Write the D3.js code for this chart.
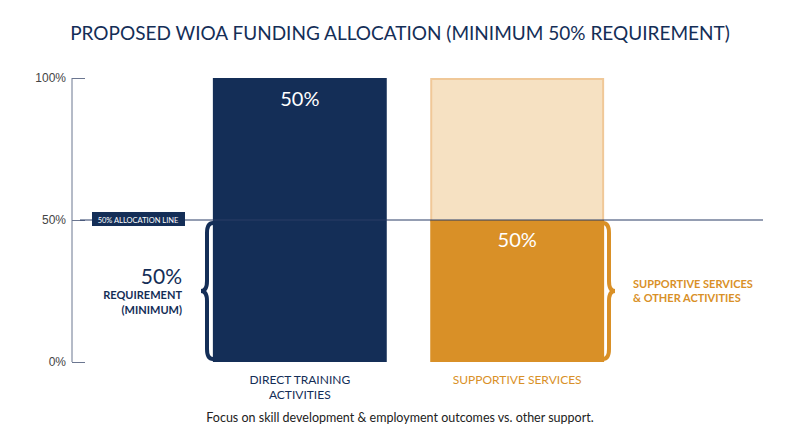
<!doctype html>
<html>
<head>
<meta charset="utf-8">
<script src="https://cdn.jsdelivr.net/npm/d3@7"></script>
<style>body{margin:0;background:#fff;font-family:Lato,"Open Sans",sans-serif;}</style>
</head>
<body>
<script>
var categories = ["DIRECT TRAINING ACTIVITIES", "SUPPORTIVE SERVICES"];
var values = [100, 50];
var shares = [50, 50];
var ticks = [0, 50, 100];

var width = 800, height = 447;
var navy = "#142e57", orange = "#d99027", light = "#f6e1c2";

var svg = d3.select("body").append("svg").attr("width", width).attr("height", height);

var y = d3.scaleLinear().domain([0, 100]).range([362, 78]);
var x = d3.scaleBand().domain(categories).range([202, 615]).paddingInner(0.2).paddingOuter(0.05);

svg.append("text").attr("x", 400).attr("y", 40).attr("text-anchor", "middle")
  .attr("fill", navy).attr("font-size", 19).text("PROPOSED WIOA FUNDING ALLOCATION (MINIMUM 50% REQUIREMENT)");

// axis
var axis = svg.append("g").attr("transform", "translate(72,0)")
  .call(d3.axisLeft(y).tickValues(ticks).tickSize(-13).tickFormat(function (d) { return d + "%"; }).tickPadding(20));
axis.select(".domain").remove();
axis.append("line").attr("y1", y(0)).attr("y2", y(100)).attr("stroke", "#6b7690");
axis.selectAll(".tick line").attr("stroke", "#6b7690").attr("x1", 0).attr("x2", 13);
axis.selectAll(".tick text").attr("fill", "#444").attr("font-size", 12).attr("x", -6);

// bars
var bw = x.bandwidth();
svg.append("rect").attr("x", x(categories[1]) + 1).attr("y", y(100) + 1).attr("width", bw - 2).attr("height", y(50) - y(100))
  .attr("fill", light).attr("stroke", "#f0c898").attr("stroke-width", 2);
svg.append("rect").attr("x", x(categories[0])).attr("y", y(values[0])).attr("width", bw).attr("height", y(0) - y(values[0])).attr("fill", navy);
svg.append("rect").attr("x", x(categories[1])).attr("y", y(values[1])).attr("width", bw).attr("height", y(0) - y(values[1])).attr("fill", orange);

svg.append("text").attr("x", x(categories[0]) + bw / 2).attr("y", y(100) + 28).attr("text-anchor", "middle")
  .attr("fill", "#fff").attr("font-size", 20).text(shares[0] + "%");
svg.append("text").attr("x", x(categories[1]) + bw / 2).attr("y", y(50) + 27).attr("text-anchor", "middle")
  .attr("fill", "#fff").attr("font-size", 20).text(shares[1] + "%");

// 50% line
svg.append("line").attr("x1", 80).attr("x2", 763).attr("y1", y(50)).attr("y2", y(50)).attr("stroke", "#2a3d66").attr("stroke-width", 1);
svg.append("rect").attr("x", 92).attr("y", y(50) - 8).attr("width", 93).attr("height", 14).attr("fill", navy);
svg.append("text").attr("x", 138).attr("y", y(50) + 2.5).attr("text-anchor", "middle").attr("fill", "#fff")
  .attr("font-size", 7.5).text("50% ALLOCATION LINE");

// braces
function brace(xe, y0, y1, dir) {
  var m = (y0 + y1) / 2, w = 12 * dir, h = 6 * dir;
  return "M" + xe + "," + y0 + " Q" + (xe - h) + "," + y0 + " " + (xe - h) + "," + (y0 + 10) +
    " L" + (xe - h) + "," + (m - 10) + " Q" + (xe - h) + "," + m + " " + (xe - w) + "," + m +
    " Q" + (xe - h) + "," + m + " " + (xe - h) + "," + (m + 10) +
    " L" + (xe - h) + "," + (y1 - 10) + " Q" + (xe - h) + "," + y1 + " " + xe + "," + y1;
}
svg.append("path").attr("d", brace(213, y(50) + 3, y(0) - 3, 1)).attr("fill", "none").attr("stroke", navy).attr("stroke-width", 4);
svg.append("path").attr("d", brace(603, y(50) + 3, y(0) - 3, -1)).attr("fill", "none").attr("stroke", orange).attr("stroke-width", 4);

svg.append("text").attr("x", 182).attr("y", 284).attr("text-anchor", "end").attr("fill", navy).attr("font-size", 21).text("50%");
svg.append("text").attr("x", 182).attr("y", 299).attr("text-anchor", "end").attr("fill", navy).attr("font-size", 11).attr("font-weight", "bold").text("REQUIREMENT");
svg.append("text").attr("x", 182).attr("y", 314).attr("text-anchor", "end").attr("fill", navy).attr("font-size", 11).attr("font-weight", "bold").text("(MINIMUM)");

svg.append("text").attr("x", 633).attr("y", 288).attr("fill", orange).attr("font-size", 11).attr("font-weight", "bold").text("SUPPORTIVE SERVICES");
svg.append("text").attr("x", 633).attr("y", 302).attr("fill", orange).attr("font-size", 11).attr("font-weight", "bold").text("& OTHER ACTIVITIES");

// category labels
svg.append("text").attr("x", x(categories[0]) + bw / 2).attr("y", 384).attr("text-anchor", "middle").attr("fill", navy).attr("font-size", 12).text("DIRECT TRAINING");
svg.append("text").attr("x", x(categories[0]) + bw / 2).attr("y", 399).attr("text-anchor", "middle").attr("fill", navy).attr("font-size", 12).text("ACTIVITIES");
svg.append("text").attr("x", x(categories[1]) + bw / 2).attr("y", 384).attr("text-anchor", "middle").attr("fill", orange).attr("font-size", 12).text(categories[1]);

svg.append("text").attr("x", 400).attr("y", 422).attr("text-anchor", "middle").attr("fill", "#222").attr("font-size", 12.5)
  .text("Focus on skill development & employment outcomes vs. other support.");
</script>
</body>
</html>
